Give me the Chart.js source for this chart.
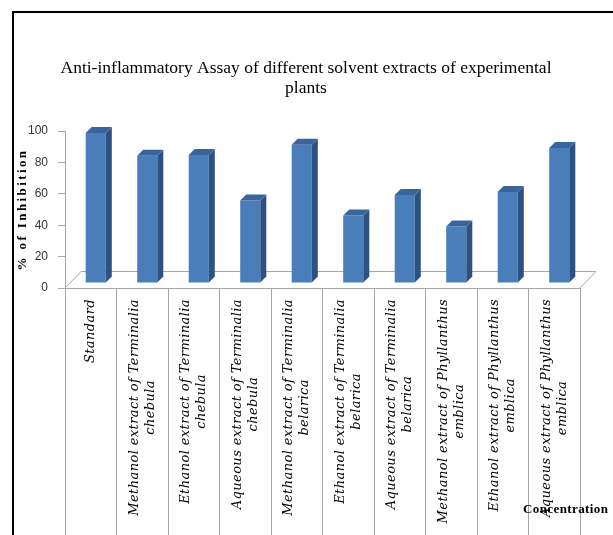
<!DOCTYPE html>
<html>
<head>
<meta charset="utf-8">
<title>Anti-inflammatory Assay</title>
<script src="https://cdn.jsdelivr.net/npm/chart.js@4/dist/chart.umd.min.js"></script>
<style>
  html, body { margin: 0; padding: 0; background: #fff; }
  #wrap { width: 613px; height: 535px; }
</style>
</head>
<body>
<div id="wrap"><canvas id="assay" width="613" height="535"></canvas></div>
<script>
// Extracts on the x axis, one array entry per printed line
const EXTRACTS = [
  ["Standard"],
  ["Methanol extract of Terminalia", "chebula"],
  ["Ethanol extract of Terminalia", "chebula"],
  ["Aqueous extract of Terminalia", "chebula"],
  ["Methanol extract of Terminalia", "belarica"],
  ["Ethanol extract of Terminalia", "belarica"],
  ["Aqueous extract of Terminalia", "belarica"],
  ["Methanol extract of Phyllanthus", "emblica"],
  ["Ethanol extract of Phyllanthus", "emblica"],
  ["Aqueous extract of Phyllanthus", "emblica"],
];
const INHIBITION = [95.5, 81, 81.5, 52.5, 88, 43, 56, 36, 58, 86];
const Y_MIN = 0;
const Y_MAX = 100;
const Y_STEP = 20;
const TITLE = [
  "Anti-inflammatory Assay of different solvent extracts of experimental",
  "plants",
];
const Y_TITLE = "% of Inhibition";
const X_TITLE = "Concentration";

const FRONT = "#4a7ebb";
const SIDE = "#2d5182";
const TOPFACE = "#3a659c";
const AXIS = "#a6a6a6";

// pseudo-3D: bars sit a little back on the floor and get a side + top face
const DEPTH = 6;
const SHIFT_X = 5;
const SHIFT_Y = -5;
const FLOOR_DX = 16;
const FLOOR_DY = 17;

const LABEL_FONT = "italic 13px 'DejaVu Serif'";
const LABEL_TOP = 299;
const LABEL_LINE = 16;

const columns3d = {
  id: "columns3d",
  beforeDatasetsDraw(chart) {
    const { ctx, chartArea: a } = chart;
    ctx.save();
    ctx.strokeStyle = AXIS;
    ctx.lineWidth = 1;
    ctx.beginPath();
    ctx.moveTo(a.left, a.bottom);
    ctx.lineTo(a.left + FLOOR_DX, a.bottom - FLOOR_DY + 0.5);
    ctx.lineTo(a.right + FLOOR_DX, a.bottom - FLOOR_DY + 0.5);
    ctx.lineTo(a.right, a.bottom);
    ctx.stroke();
    ctx.restore();

    ctx.save();
    ctx.translate(SHIFT_X, SHIFT_Y);
  },
  afterDatasetsDraw(chart) {
    const ctx = chart.ctx;
    chart.getDatasetMeta(0).data.forEach((bar) => {
      const { x, y, base, width } = bar.getProps(["x", "y", "base", "width"], true);
      const l = x - width / 2;
      const r = x + width / 2;
      ctx.fillStyle = SIDE;
      ctx.beginPath();
      ctx.moveTo(r, y);
      ctx.lineTo(r + DEPTH, y - DEPTH);
      ctx.lineTo(r + DEPTH, base - DEPTH);
      ctx.lineTo(r, base);
      ctx.closePath();
      ctx.fill();
      ctx.fillStyle = TOPFACE;
      ctx.beginPath();
      ctx.moveTo(l, y);
      ctx.lineTo(l + DEPTH, y - DEPTH);
      ctx.lineTo(r + DEPTH, y - DEPTH);
      ctx.lineTo(r, y);
      ctx.closePath();
      ctx.fill();
    });
    ctx.restore();
  },
  afterDraw(chart) {
    const { ctx, chartArea: a } = chart;
    const xs = chart.scales.x;
    ctx.save();
    ctx.fillStyle = "#000";
    ctx.textBaseline = "middle";

    // chart title
    ctx.font = "17.5px 'Liberation Serif'";
    ctx.textAlign = "center";
    TITLE.forEach((t, i) => ctx.fillText(t, 306, 68 + i * 20));

    // value axis title, spaced out
    ctx.save();
    ctx.font = "bold 13px 'Liberation Serif'";
    ctx.letterSpacing = "2.4px";
    ctx.translate(23, (a.top + a.bottom) / 2);
    ctx.rotate(-Math.PI / 2);
    ctx.fillText(Y_TITLE, 0, 0);
    ctx.restore();

    // category labels read bottom-to-top, hanging from the floor
    ctx.save();
    ctx.font = LABEL_FONT;
    ctx.letterSpacing = "0.4px";
    EXTRACTS.forEach((lines, i) => {
      const cx = xs.getPixelForValue(i);
      const widest = Math.max(...lines.map((t) => ctx.measureText(t).width));
      const cy = LABEL_TOP + widest / 2;
      lines.forEach((t, j) => {
        ctx.save();
        ctx.translate(cx + (j - (lines.length - 1) / 2) * LABEL_LINE, cy);
        ctx.rotate(-Math.PI / 2);
        ctx.fillText(t, 0, 0);
        ctx.restore();
      });
    });
    ctx.restore();

    ctx.save();
    ctx.font = "bold 13px 'Liberation Serif'";
    ctx.letterSpacing = "0.4px";
    ctx.textAlign = "left";
    ctx.fillText(X_TITLE, 523, 510);
    ctx.restore();

    // outer frame, runs off the right and bottom edges
    ctx.strokeStyle = "#000";
    ctx.lineWidth = 2;
    ctx.strokeRect(13, 12, 700, 700);
    ctx.restore();
  },
};

new Chart(document.getElementById("assay"), {
  type: "bar",
  data: {
    labels: EXTRACTS,
    datasets: [
      {
        data: INHIBITION,
        backgroundColor: FRONT,
        borderWidth: 0,
        categoryPercentage: 1,
        barPercentage: 0.39,
      },
    ],
  },
  options: {
    responsive: false,
    animation: false,
    devicePixelRatio: 1,
    layout: { padding: { left: 0, right: 33, top: 131, bottom: 0 } },
    plugins: {
      legend: { display: false },
      tooltip: { enabled: false },
      title: { display: false },
    },
    scales: {
      x: {
        grid: {
          offset: true,
          drawOnChartArea: false,
          drawTicks: true,
          tickLength: 260,
          color: AXIS,
        },
        border: { color: AXIS },
        ticks: { display: false },
        afterFit: (s) => { s.height = 247; },
      },
      y: {
        min: Y_MIN,
        max: Y_MAX,
        ticks: {
          stepSize: Y_STEP,
          color: "#333",
          padding: 10,
          font: { family: "'Liberation Sans'", size: 12 },
        },
        grid: { drawOnChartArea: false, drawTicks: true, tickLength: 7, color: AXIS },
        border: { color: AXIS },
        afterFit: (s) => { s.width = 65; },
      },
    },
  },
  plugins: [columns3d],
});
</script>
</body>
</html>
